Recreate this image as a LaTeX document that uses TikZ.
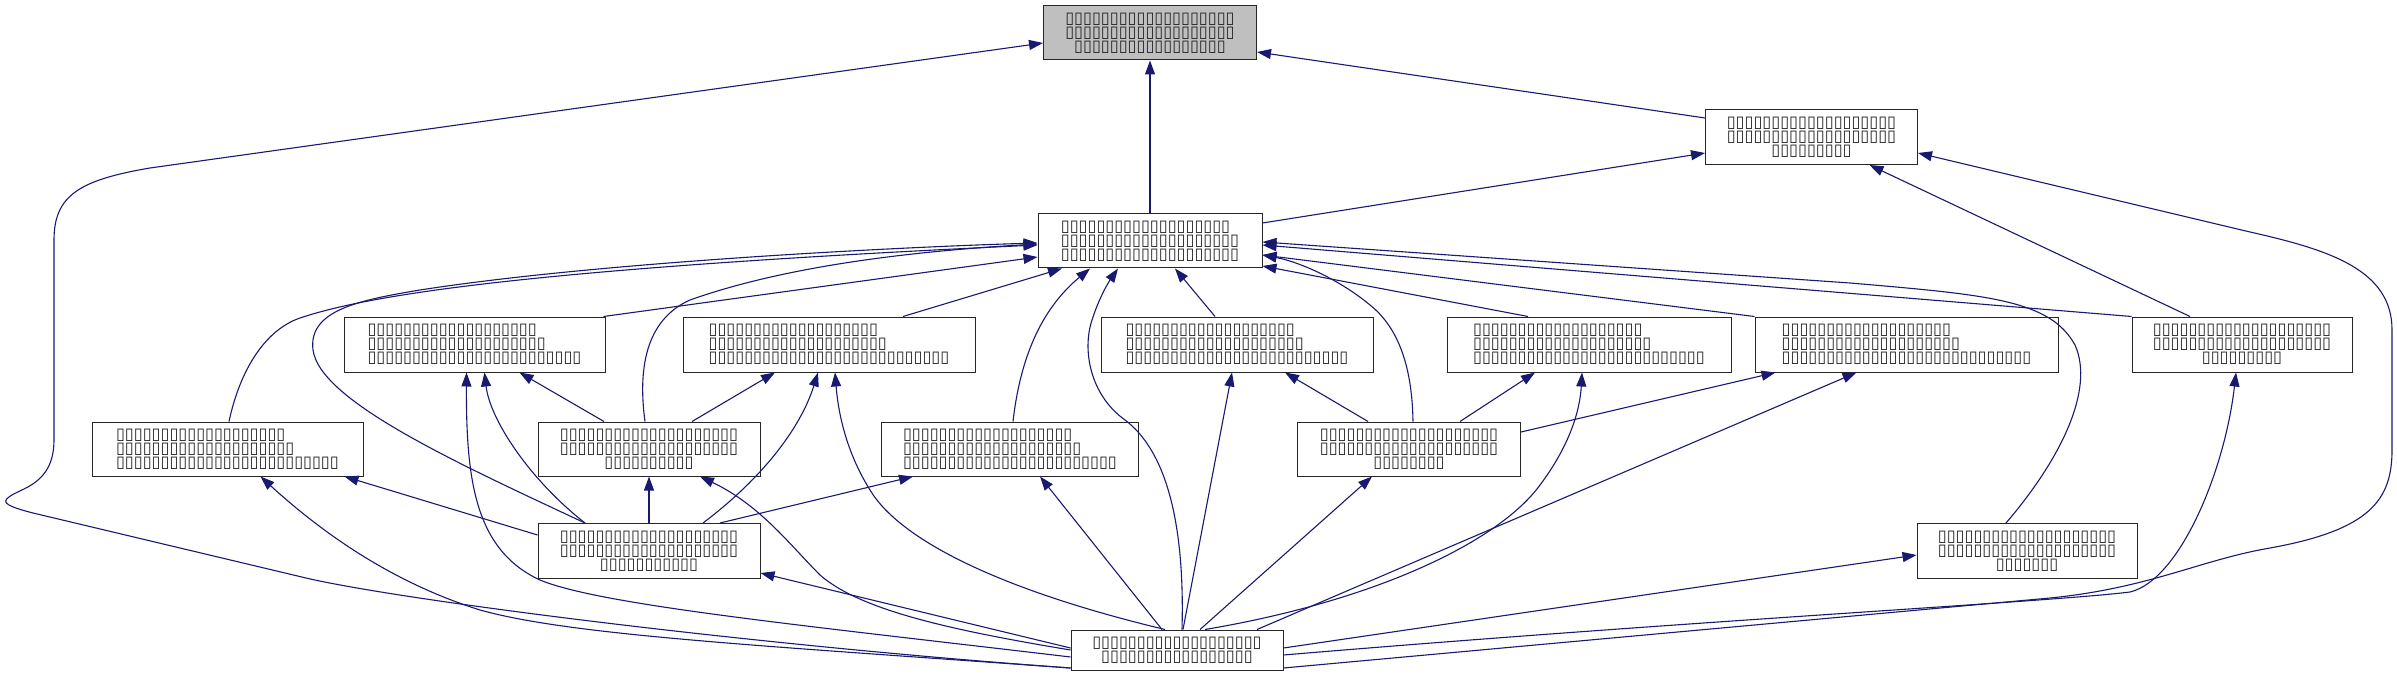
\documentclass[tikz,border=0pt]{standalone}
\usepackage{fontspec}
\newfontfamily\dv{DejaVu Sans}
\usetikzlibrary{arrows.meta}
\definecolor{mb}{RGB}{25,25,112}
\definecolor{gfill}{RGB}{191,191,191}
\tikzset{
  cls/.style={draw=black!85, line width=1pt, fill=white, minimum height=54pt, inner sep=0pt,
    font=\dv\fontsize{16.2}{14.2}\selectfont, text=black!85},
  lft/.style={cls, align=left},
  ctr/.style={cls, align=center},
  edge/.style={draw=mb, line width=1.1pt, -{Triangle[length=14pt,width=10pt]}},
}
\begin{document}
\begin{tikzpicture}[x=1pt,y=1pt]
\useasboundingbox (0,0) rectangle (2397,-676);
% nodes
\node[ctr, fill=gfill, minimum width=213pt] (N0) at (1150,-33) {▯▯▯▯▯▯▯▯▯▯▯▯▯▯▯▯▯▯▯\\▯▯▯▯▯▯▯▯▯▯▯▯▯▯▯▯▯▯▯\\▯▯▯▯▯▯▯▯▯▯▯▯▯▯▯▯▯};
\node[ctr, minimum width=212pt, minimum height=55pt] (N1) at (1811.5,-137) {▯▯▯▯▯▯▯▯▯▯▯▯▯▯▯▯▯▯▯\\▯▯▯▯▯▯▯▯▯▯▯▯▯▯▯▯▯▯▯\\▯▯▯▯▯▯▯▯▯};
\node[lft, minimum width=224pt] (N2) at (1150,-241) {▯▯▯▯▯▯▯▯▯▯▯▯▯▯▯▯▯▯▯\\▯▯▯▯▯▯▯▯▯▯▯▯▯▯▯▯▯▯▯▯\\▯▯▯▯▯▯▯▯▯▯▯▯▯▯▯▯▯▯▯▯};
\node[lft, minimum width=261pt, minimum height=55pt] (A) at (474.5,-344.5) {▯▯▯▯▯▯▯▯▯▯▯▯▯▯▯▯▯▯▯\\▯▯▯▯▯▯▯▯▯▯▯▯▯▯▯▯▯▯▯▯\\▯▯▯▯▯▯▯▯▯▯▯▯▯▯▯▯▯▯▯▯▯▯▯▯};
\node[lft, minimum width=292pt, minimum height=55pt] (B) at (829,-344.5) {▯▯▯▯▯▯▯▯▯▯▯▯▯▯▯▯▯▯▯\\▯▯▯▯▯▯▯▯▯▯▯▯▯▯▯▯▯▯▯▯\\▯▯▯▯▯▯▯▯▯▯▯▯▯▯▯▯▯▯▯▯▯▯▯▯▯▯▯};
\node[lft, minimum width=272pt, minimum height=55pt] (C) at (1237,-344.5) {▯▯▯▯▯▯▯▯▯▯▯▯▯▯▯▯▯▯▯\\▯▯▯▯▯▯▯▯▯▯▯▯▯▯▯▯▯▯▯▯\\▯▯▯▯▯▯▯▯▯▯▯▯▯▯▯▯▯▯▯▯▯▯▯▯▯};
\node[lft, minimum width=284pt, minimum height=55pt] (D) at (1589,-344.5) {▯▯▯▯▯▯▯▯▯▯▯▯▯▯▯▯▯▯▯\\▯▯▯▯▯▯▯▯▯▯▯▯▯▯▯▯▯▯▯▯\\▯▯▯▯▯▯▯▯▯▯▯▯▯▯▯▯▯▯▯▯▯▯▯▯▯▯};
\node[lft, minimum width=303pt, minimum height=55pt] (E) at (1906.5,-344.5) {▯▯▯▯▯▯▯▯▯▯▯▯▯▯▯▯▯▯▯\\▯▯▯▯▯▯▯▯▯▯▯▯▯▯▯▯▯▯▯▯\\▯▯▯▯▯▯▯▯▯▯▯▯▯▯▯▯▯▯▯▯▯▯▯▯▯▯▯▯};
\node[ctr, minimum width=220pt, minimum height=55pt] (F) at (2242,-344.5) {▯▯▯▯▯▯▯▯▯▯▯▯▯▯▯▯▯▯▯▯\\▯▯▯▯▯▯▯▯▯▯▯▯▯▯▯▯▯▯▯▯\\▯▯▯▯▯▯▯▯▯};
\node[lft, minimum width=271pt] (G) at (227.5,-449) {▯▯▯▯▯▯▯▯▯▯▯▯▯▯▯▯▯▯▯\\▯▯▯▯▯▯▯▯▯▯▯▯▯▯▯▯▯▯▯▯\\▯▯▯▯▯▯▯▯▯▯▯▯▯▯▯▯▯▯▯▯▯▯▯▯▯};
\node[ctr, minimum width=222pt] (H) at (649,-449) {▯▯▯▯▯▯▯▯▯▯▯▯▯▯▯▯▯▯▯▯\\▯▯▯▯▯▯▯▯▯▯▯▯▯▯▯▯▯▯▯▯\\▯▯▯▯▯▯▯▯▯▯};
\node[lft, minimum width=257pt] (I) at (1010,-449) {▯▯▯▯▯▯▯▯▯▯▯▯▯▯▯▯▯▯▯\\▯▯▯▯▯▯▯▯▯▯▯▯▯▯▯▯▯▯▯▯\\▯▯▯▯▯▯▯▯▯▯▯▯▯▯▯▯▯▯▯▯▯▯▯▯};
\node[ctr, minimum width=223pt] (J) at (1409,-449) {▯▯▯▯▯▯▯▯▯▯▯▯▯▯▯▯▯▯▯▯\\▯▯▯▯▯▯▯▯▯▯▯▯▯▯▯▯▯▯▯▯\\▯▯▯▯▯▯▯▯};
\node[ctr, minimum width=222pt, minimum height=55pt] (K) at (649,-551) {▯▯▯▯▯▯▯▯▯▯▯▯▯▯▯▯▯▯▯▯\\▯▯▯▯▯▯▯▯▯▯▯▯▯▯▯▯▯▯▯▯\\▯▯▯▯▯▯▯▯▯▯▯};
\node[ctr, minimum width=220pt, minimum height=55pt] (L) at (2027,-551) {▯▯▯▯▯▯▯▯▯▯▯▯▯▯▯▯▯▯▯▯\\▯▯▯▯▯▯▯▯▯▯▯▯▯▯▯▯▯▯▯▯\\▯▯▯▯▯▯▯};
\node[ctr, minimum width=212pt, minimum height=40pt] (M) at (1177,-650) {▯▯▯▯▯▯▯▯▯▯▯▯▯▯▯▯▯▯▯\\▯▯▯▯▯▯▯▯▯▯▯▯▯▯▯▯▯};
% edges to N0
\draw[edge] ([yshift=19pt]N1.west) -- ([yshift=-19pt]N0.east);
\draw[edge] (N2.north) -- (N0.south);
\draw[edge] ([yshift=-18pt]M.west) .. controls (750,-645) and (400,-600) .. (306,-578) -- (33,-513) .. controls (10,-507) and (0,-503) .. (9,-497) .. controls (20,-488) and (54,-485) .. (54,-440) -- (54,-240) .. controls (54,-195) and (80,-180) .. (150,-168) -- ([yshift=-10pt]N0.west);
% edges to N1
\draw[edge] ([yshift=18pt]N2.east) -- ([yshift=-16pt]N1.west);
\draw[edge] ([xshift=-52pt]F.north) -- ([xshift=58pt]N1.south);
\draw[edge] ([yshift=-18pt]M.east) -- (2050,-598) .. controls (2150,-588) and (2200,-560) .. (2270,-548) .. controls (2370,-530) and (2392,-500) .. (2392,-450) -- (2392,-330) .. controls (2392,-270) and (2330,-250) .. (2250,-232) -- ([yshift=-16pt]N1.east);
% edges to N2
\draw[edge] ([xshift=-2pt]A.north east) -- ([yshift=-16pt]N2.west);
\draw[edge] ([xshift=74pt]B.north) -- ([xshift=-88pt]N2.south);
\draw[edge] ([xshift=-22pt]C.north) -- ([xshift=25pt]N2.south);
\draw[edge] ([xshift=-61pt]D.north) -- ([yshift=-25pt]N2.east);
\draw[edge] (E.north west) -- ([yshift=-14pt]N2.east);
\draw[edge] (F.north west) -- ([yshift=-4pt]N2.east);
\draw[edge] ([xshift=1.5pt]G.north) .. controls (240,-370) and (265,-330) .. (300,-318) .. controls (360,-298) and (500,-270) .. ([yshift=-4pt]N2.west);
\draw[edge] ([xshift=-4pt]H.north) .. controls (638,-370) and (645,-320) .. (690,-300) .. controls (780,-268) and (900,-252) .. ([yshift=-3pt]N2.west);
\draw[edge] ([xshift=-64pt]K.north) .. controls (450,-460) and (320,-400) .. (313,-350) .. controls (308,-310) and (360,-300) .. (420,-290) .. controls (600,-262) and (900,-247) .. ([yshift=-2pt]N2.west);
\draw[edge] ([xshift=3pt]I.north) .. controls (1020,-360) and (1040,-310) .. ([xshift=-60pt]N2.south);
\draw[edge] ([xshift=5pt]M.north) .. controls (1185,-520) and (1165,-450) .. (1125,-420) .. controls (1090,-395) and (1082,-350) .. (1092,-320) .. controls (1100,-295) and (1110,-280) .. ([xshift=-32pt]N2.south);
\draw[edge] ([xshift=4pt]J.north) .. controls (1412,-360) and (1395,-325) .. (1370,-305) .. controls (1340,-280) and (1300,-262) .. ([yshift=-14pt]N2.east);
\draw[edge] ([xshift=-21pt]L.north) .. controls (2060,-460) and (2095,-390) .. (2075,-345) .. controls (2050,-300) and (1990,-295) .. (1850,-283) -- ([yshift=-1pt]N2.east);
% row 2 - row 3
\draw[edge] ([xshift=-45pt]H.north) -- ([xshift=45pt]A.south);
\draw[edge] ([xshift=43pt]H.north) -- ([xshift=-54pt]B.south);
\draw[edge] ([xshift=-64pt]K.north) .. controls (530,-480) and (490,-420) .. ([xshift=10pt]A.south);
\draw[edge] ([yshift=-7pt]M.west) .. controls (800,-625) and (600,-605) .. (540,-580) .. controls (475,-550) and (466,-480) .. ([xshift=-8pt]A.south);
\draw[edge] ([yshift=16pt]K.west) -- ([xshift=117pt]G.south);
\draw[edge] ([yshift=-18pt]M.west) .. controls (750,-645) and (570,-635) .. (480,-610) .. controls (400,-585) and (330,-540) .. ([xshift=33pt]G.south);
\draw[edge] (M.west) .. controls (950,-630) and (860,-610) .. (820,-575) .. controls (790,-545) and (760,-505) .. ([xshift=51pt]H.south);
\draw[edge] (K.north) -- (H.south);
\draw[edge] ([yshift=2pt]M.west) -- ([yshift=-22pt]K.east);
\draw[edge] ([xshift=54pt]K.north) .. controls (760,-480) and (800,-430) .. ([xshift=-11pt]B.south);
\draw[edge] ([xshift=-12pt]M.north) .. controls (1000,-590) and (900,-540) .. (870,-490) .. controls (845,-450) and (838,-410) .. ([xshift=6pt]B.south);
\draw[edge] ([xshift=71pt]K.north) -- ([xshift=-97pt]I.south);
\draw[edge] ([xshift=-15pt]M.north) -- ([xshift=30pt]I.south);
\draw[edge] ([xshift=6pt]M.north) -- ([xshift=-5pt]C.south);
\draw[edge] ([xshift=-41pt]J.north) -- ([xshift=48pt]C.south);
\draw[edge] ([xshift=51pt]J.north) -- ([xshift=-54pt]D.south);
\draw[edge] ([xshift=28pt]M.north) .. controls (1380,-600) and (1500,-540) .. (1540,-485) .. controls (1570,-445) and (1580,-410) .. ([xshift=-7pt]D.south);
\draw[edge] ([yshift=17pt]J.east) -- ([xshift=-131pt]E.south);
\draw[edge] ([xshift=80pt]M.north) -- ([xshift=-50pt]E.south);
\draw[edge] ([xshift=23pt]M.north) -- ([xshift=-37pt]J.south);
\draw[edge] ([yshift=2pt]M.east) -- ([yshift=-4pt]L.west);
\draw[edge] ([yshift=-5pt]M.east) .. controls (1700,-620) and (2050,-602) .. (2130,-592) .. controls (2180,-580) and (2225,-470) .. ([xshift=-6pt]F.south);
\end{tikzpicture}
\end{document}
